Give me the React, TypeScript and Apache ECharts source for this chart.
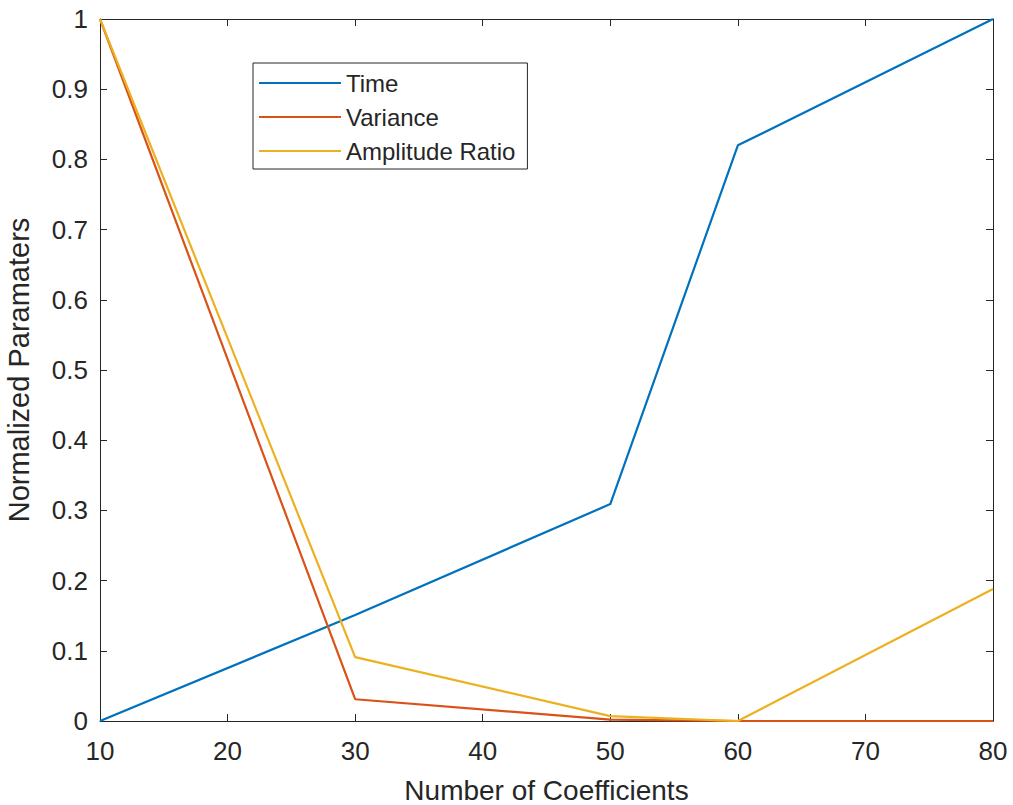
import React, { useEffect, useRef } from "react";
import * as echarts from "echarts";

const xValues = [10, 30, 50, 60, 80];
const timeValues = [0, 0.151, 0.309, 0.82, 1];
const varianceValues = [1, 0.031, 0.002, 0, 0];
const amplitudeValues = [1, 0.091, 0.007, 0, 0.188];
const seriesNames = ["Time", "Variance", "Amplitude Ratio"];
const colors = ["#0072BD", "#D95319", "#EDB120"];

const FONT = "'Liberation Sans', Arial, sans-serif";
const AX = "#262626";

export default function App() {
  const ref = useRef<HTMLDivElement>(null);
  useEffect(() => {
    if (!ref.current) return;
    const chart = echarts.init(ref.current, undefined, { renderer: "svg" });
    const mk = (name: string, vals: number[], color: string) => ({
      name,
      type: "line",
      data: xValues.map((x, i) => [x, vals[i]]),
      showSymbol: false,
      symbol: "none",
      lineStyle: { color, width: 2.2 },
      itemStyle: { color },
      xAxisIndex: 0,
      yAxisIndex: 0,
      z: 3,
    });
    const axisCommon = {
      axisLine: { show: true, onZero: false, lineStyle: { color: AX, width: 1 } },
      axisTick: { show: true, inside: true, length: 7, lineStyle: { color: AX, width: 1 } },
      splitLine: { show: false },
    };
    chart.setOption({
      animation: false,
      backgroundColor: "#ffffff",
      color: colors,
      textStyle: { fontFamily: FONT },
      grid: {
        left: 100,
        right: 20,
        top: 19,
        bottom: 84,
        containLabel: false,
        outerBoundsMode: "none",
      },
      legend: {
        orient: "vertical",
        left: 253,
        top: 63,
        data: seriesNames,
        icon: "rect",
        itemWidth: 82,
        itemHeight: 2,
        itemGap: 10,
        padding: [8, 12, 6, 6],
        borderColor: AX,
        borderWidth: 1,
        backgroundColor: "#ffffff",
        textStyle: { fontSize: 24, color: AX, fontFamily: FONT },
      },
      xAxis: [
        {
          type: "value",
          min: 10,
          max: 80,
          interval: 10,
          position: "bottom",
          name: "Number of Coefficients",
          nameLocation: "middle",
          nameGap: 58,
          nameTextStyle: { fontSize: 28, lineHeight: 22, color: AX, fontFamily: FONT },
          axisLabel: { fontSize: 26, color: AX, margin: 17, fontFamily: FONT },
          ...axisCommon,
        },
        {
          type: "value",
          min: 10,
          max: 80,
          interval: 10,
          position: "top",
          axisLabel: { show: false },
          ...axisCommon,
        },
      ],
      yAxis: [
        {
          type: "value",
          min: 0,
          max: 1,
          interval: 0.1,
          position: "left",
          name: "Normalized Paramaters",
          nameLocation: "middle",
          nameGap: 67,
          nameTextStyle: { fontSize: 29, color: AX, fontFamily: FONT },
          axisLabel: {
            fontSize: 26,
            color: AX,
            margin: 12,
            fontFamily: FONT,
            formatter: (v: number) => String(Math.round(v * 10) / 10),
          },
          ...axisCommon,
        },
        {
          type: "value",
          min: 0,
          max: 1,
          interval: 0.1,
          position: "right",
          axisLabel: { show: false },
          ...axisCommon,
        },
      ],
      series: [
        mk(seriesNames[0], timeValues, colors[0]),
        mk(seriesNames[1], varianceValues, colors[1]),
        mk(seriesNames[2], amplitudeValues, colors[2]),
      ],
    });
    return () => chart.dispose();
  }, []);
  return (
    <div
      ref={ref}
      style={{ position: "absolute", left: 0, top: 0, width: 1013, height: 805 }}
    />
  );
}
